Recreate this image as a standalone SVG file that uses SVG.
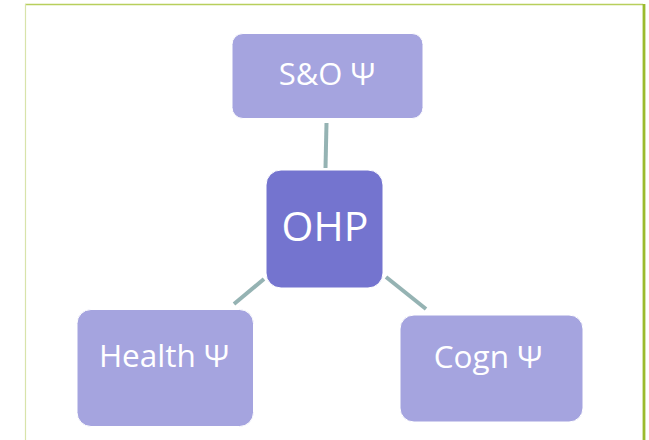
<svg xmlns="http://www.w3.org/2000/svg" width="649" height="440" viewBox="0 0 649 440">
<style>
.node{fill:#a5a4df;stroke:#ffffff;stroke-width:1}
.center{fill:#7474cf;stroke:#ffffff;stroke-width:1}
.lbl{font-family:"Open Sans","Noto Sans","DejaVu Sans",sans-serif;fill:#ffffff;text-anchor:middle}
.conn{stroke:#95b3b3;stroke-width:4;fill:none}
</style>
<rect x="0" y="0" width="649" height="440" fill="#ffffff"/>
<g id="frame">
<line x1="25" y1="4.5" x2="643" y2="4.5" stroke="#b8cf5c" stroke-width="1.5"/>
<line x1="25.5" y1="4" x2="25.5" y2="440" stroke="#d8e3aa" stroke-width="1.2"/>
<line x1="644" y1="4" x2="644" y2="440" stroke="#9bbb2e" stroke-width="2.8"/>
</g>
<g id="connectors">
<line class="conn" x1="326.5" y1="123" x2="325.5" y2="168"/>
<line class="conn" x1="234" y1="304" x2="264" y2="279"/>
<line class="conn" x1="386" y1="277" x2="426" y2="309"/>
</g>
<g id="node-so">
<rect class="node" x="232" y="33.5" width="191" height="85" rx="11"/>
<text class="lbl" x="327" y="85" font-size="31">S&amp;O Ψ</text>
</g>
<g id="node-ohp">
<rect class="center" x="266" y="170" width="117" height="118" rx="15"/>
<text class="lbl" x="325" y="241" font-size="41">OHP</text>
</g>
<g id="node-health">
<rect class="node" x="77" y="309.5" width="176.5" height="117" rx="14"/>
<text class="lbl" x="164" y="367" font-size="31.5">Health Ψ</text>
</g>
<g id="node-cogn">
<rect class="node" x="400" y="315" width="183" height="107" rx="14"/>
<text class="lbl" x="488" y="368" font-size="31.5">Cogn Ψ</text>
</g>
</svg>
